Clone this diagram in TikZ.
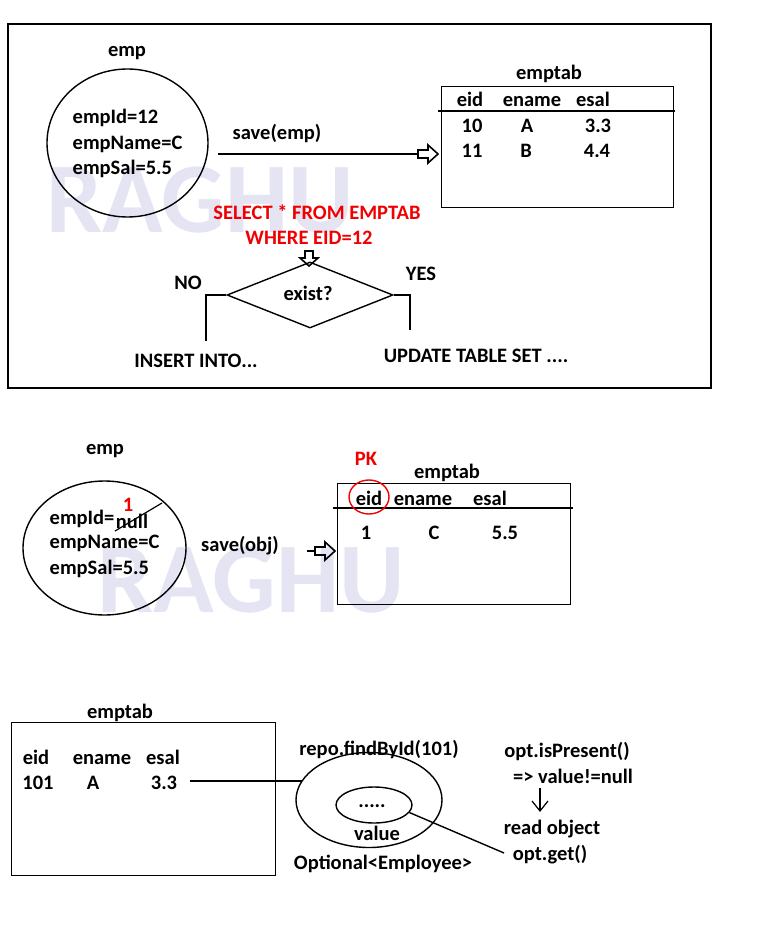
\documentclass[tikz,border=0pt]{standalone}
\usepackage{fontspec}
\setmainfont{Carlito}
\usetikzlibrary{shapes.geometric}
\definecolor{wmcol}{HTML}{E4E4F2}
\definecolor{redtxt}{HTML}{F00000}
\begin{document}
\begin{tikzpicture}[x=1pt,y=-1pt,line width=1.4pt,
  lbl/.style={font=\fontsize{20.5}{25}\selectfont\bfseries, inner sep=0pt, text height=16pt, text depth=2pt},
  rlbl/.style={lbl, text=redtxt},
  wmark/.style={font=\fontsize{100}{100}\selectfont\bfseries, text=wmcol, inner sep=0pt},
  box/.style={draw, inner sep=0pt, anchor=north west},
  oval/.style={draw, ellipse, inner sep=0pt}]
\useasboundingbox (0,0) rectangle (770,949);
% watermarks
\node[wmark] (wm1) at (200,200) {RAGHU};
\node[wmark] (wm2) at (251,580) {RAGHU};
% ===== top section =====
\node[box, line width=2pt, minimum width=703, minimum height=364] (frame) at (7,23) {};
\node[lbl] (emp1) at (127,50) {emp};
\node[oval, minimum width=161, minimum height=148] (c1) at (127.5,143) {};
\node[lbl, anchor=west] (c1a) at (72,117) {empId=12};
\node[lbl, anchor=west] (c1b) at (72,143) {empName=C};
\node[lbl, anchor=west] (c1c) at (72,168) {empSal=5.5};
\node[lbl] (save1) at (277,133) {save(emp)};
\node[box, minimum width=232, minimum height=121] (t1) at (441,86) {};
\node[lbl] (t1title) at (549,73) {emptab};
\draw (438,111) -- (675,111);
\node[lbl] (t1h1) at (470,100) {eid};
\node[lbl] (t1h2) at (532,100) {ename};
\node[lbl] (t1h3) at (593,100) {esal};
\node[lbl] (t1a1) at (472,126) {10};
\node[lbl] (t1a2) at (527,126) {A};
\node[lbl] (t1a3) at (598,126) {3.3};
\node[lbl] (t1b1) at (472,151) {11};
\node[lbl] (t1b2) at (526,151) {B};
\node[lbl] (t1b3) at (597,151) {4.4};
\coordinate (a1s) at (218,154);
\coordinate (a1e) at (418,154);
\draw (a1s) -- (a1e);
\draw[line width=1.6pt] (a1e) ++(0,-4) -- ++(10,0) -- ++(0,-5) -- ++(10,9) -- ++(-10,9) -- ++(0,-5) -- ++(-10,0) -- cycle;
\node[rlbl] (sql1) at (317,213) {SELECT * FROM EMPTAB};
\node[rlbl] (sql2) at (309,238) {WHERE EID=12};
\node[draw, diamond, inner sep=0pt, minimum width=166, minimum height=66] (d) at (310,295) {};
\node[lbl] (dtxt) at (308,293) {exist?};
\coordinate (da) at (309,251);
\draw[line width=1.6pt] (da) ++(-4,0) -- ++(8,0) -- ++(0,7) -- ++(5,0) -- ++(-9,8) -- ++(-9,-8) -- ++(5,0) -- cycle;
\coordinate (nocorner) at (206,295);
\coordinate (noend) at (206,341);
\coordinate (yescorner) at (410,295);
\coordinate (yesend) at (410,330);
\draw (d.west) -- (nocorner) -- (noend);
\draw (d.east) -- (yescorner) -- (yesend);
\node[lbl] (no) at (188,283) {NO};
\node[lbl] (yes) at (421,273) {YES};
\node[lbl] (ins) at (196,360) {INSERT INTO...};
\node[lbl] (upd) at (476,355) {UPDATE TABLE SET ....};
% ===== middle section =====
\node[lbl] (emp2) at (105,447) {emp};
\node[oval, minimum width=163, minimum height=134] (c2) at (104.5,548) {};
\node[lbl, anchor=west] (c2a) at (49,517) {empId=};
\node[lbl] (c2null) at (132,521) {null};
\draw[line width=1.2pt] (115,531) -- (162,503);
\node[rlbl] (c2one) at (128,504) {1};
\node[lbl, anchor=west] (c2b) at (49,541) {empName=C};
\node[lbl, anchor=west] (c2c) at (49,567) {empSal=5.5};
\node[lbl] (save2) at (240,544) {save(obj)};
\node[box, minimum width=233, minimum height=121] (t2) at (337,483) {};
\node[lbl] (t2title) at (447,471) {emptab};
\draw (333,508) -- (573,508);
\node[rlbl] (pk) at (366,458) {PK};
\node[lbl] (t2h1) at (369,498) {eid};
\node[draw=redtxt, ellipse, line width=1.4pt, minimum width=40, minimum height=34, inner sep=0pt] (pkc) at (369,497) {};
\node[lbl] (t2h2) at (423,498) {ename};
\node[lbl] (t2h3) at (490,498) {esal};
\node[lbl] (t2a1) at (366,532) {1};
\node[lbl] (t2a2) at (434,532) {C};
\node[lbl] (t2a3) at (505,532) {5.5};
\coordinate (a2s) at (307,551);
\coordinate (a2e) at (315,551);
\draw (a2s) -- (a2e);
\draw[line width=1.6pt] (a2e) ++(0,-4) -- ++(10,0) -- ++(0,-5) -- ++(10,9) -- ++(-10,9) -- ++(0,-5) -- ++(-10,0) -- cycle;
% ===== bottom section =====
\node[lbl] (t3title) at (120,711) {emptab};
\node[box, minimum width=264, minimum height=153] (t3) at (11,722) {};
\node[lbl] (t3h1) at (36,757) {eid};
\node[lbl] (t3h2) at (102,757) {ename};
\node[lbl] (t3h3) at (163,757) {esal};
\node[lbl] (t3a1) at (38,782) {101};
\node[lbl] (t3a2) at (93,782) {A};
\node[lbl] (t3a3) at (164,782) {3.3};
\node[lbl] (repo) at (379,748) {repo.findById(101)};
\node[oval, minimum width=146, minimum height=95] (e1) at (369,800) {};
\node[oval, minimum width=76, minimum height=36] (e2) at (374,805) {};
\node[lbl] (dots) at (372,800) {.....};
\node[lbl] (val) at (377,833) {value};
\node[lbl] (opt) at (383,862) {Optional<Employee>};
\coordinate (l3s) at (190,781);
\draw (l3s) -- (l3s -| e1.164);
\node[lbl] (isp) at (567,750) {opt.isPresent()};
\node[lbl] (vnn) at (573,776) {=> value!=null};
\node[lbl] (rob) at (552,827) {read object};
\node[lbl] (og) at (550,853) {opt.get()};
\coordinate (ogend) at (504,853);
\draw (e2.-12) -- (ogend);
\coordinate (ar1) at (540,788);
\coordinate (ar2) at (540,811);
\draw[line width=1.2pt] (ar1) -- (ar2);
\draw[line width=1.2pt] (ar2) ++(-8,-10) -- (ar2) -- ++(8,-10);
\end{tikzpicture}
\end{document}
